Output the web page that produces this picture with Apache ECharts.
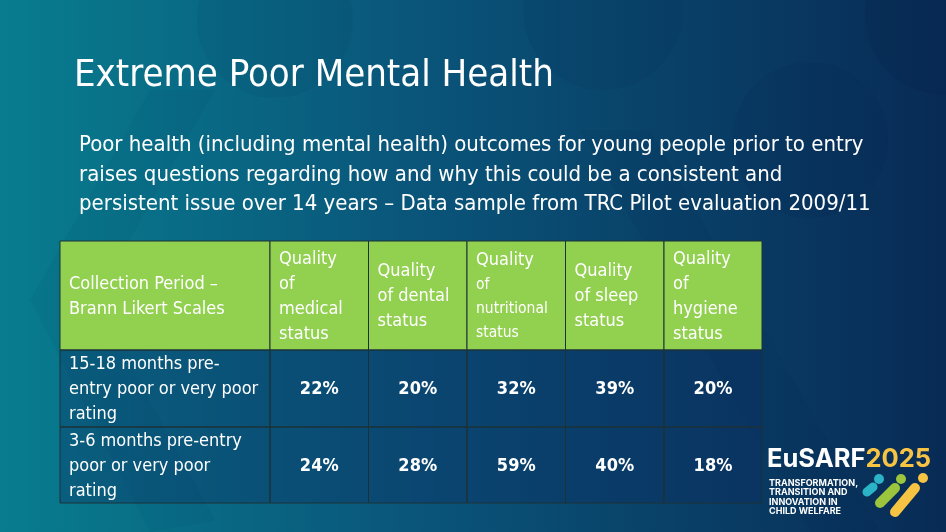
<!DOCTYPE html>
<html>
<head>
<meta charset="utf-8">
<script src="https://cdn.jsdelivr.net/npm/echarts@6/dist/echarts.min.js"></script>
<style>
  html, body { margin: 0; padding: 0; background: #0b5a78; }
  #main { width: 946px; height: 532px; }
</style>
</head>
<body>
<div id="main"></div>
<script>
// table content
const headers = [
    'Collection Period –\nBrann Likert Scales',
    'Quality\nof\nmedical\nstatus',
    'Quality\nof dental\nstatus',
    'Quality\nof\nnutritional\nstatus',
    'Quality\nof sleep\nstatus',
    'Quality\nof\nhygiene\nstatus'
];
const periods = [
    '15-18 months pre-\nentry poor or very poor\nrating',
    '3-6 months pre-entry\npoor or very poor\nrating'
];
const medical = [22, 24];
const dental = [20, 28];
const nutritional = [32, 59];
const sleep = [39, 40];
const hygiene = [20, 18];

const titleText = 'Extreme Poor Mental Health';
const subtitleText = 'Poor health (including mental health) outcomes for young people prior to entry\nraises questions regarding how and why this could be a consistent and\npersistent issue over 14 years – Data sample from TRC Pilot evaluation 2009/11';

// layout of the table (in px units of the grid)
const colEdges = [0, 210, 308.5, 407, 505.5, 604, 702];
const rowEdges = [0, 109, 186, 262];
const FONT = '"DejaVu Sans Condensed", "Liberation Sans Narrow", Arial, sans-serif';
const LOGO_FONT = 'Inter, "DejaVu Sans", sans-serif';

// build the cells from the arrays
const columns = [medical, dental, nutritional, sleep, hygiene];
const cells = [];
headers.forEach((h, c) => cells.push({ value: [c, 0], text: h }));
periods.forEach((p, r) => {
    cells.push({ value: [0, r + 1], text: p });
    columns.forEach((col, c) => cells.push({ value: [c + 1, r + 1], text: col[r] + '%' }));
});

const renderCell = (params, api) => {
    const col = api.value(0);
    const row = api.value(1);
    const p0 = api.coord([colEdges[col], rowEdges[row]]);
    const p1 = api.coord([colEdges[col + 1], rowEdges[row + 1]]);
    const w = p1[0] - p0[0];
    const h = p1[1] - p0[1];
    let text = cells[params.dataIndex].text;
    const isValue = row > 0 && col > 0;
    if (col === 3 && row === 0) {
        // smaller lines under "Quality" in the nutritional header
        const lines = text.split('\n');
        text = '{n|' + lines[0] + '}\n' + lines.slice(1).map(l => '{s|' + l + '}').join('\n');
    }
    return {
        type: 'group',
        children: [
            {
                type: 'rect',
                shape: { x: p0[0], y: p0[1], width: w, height: h },
                style: {
                    fill: row === 0 ? '#92d050' : 'rgba(12, 40, 95, 0.32)',
                    stroke: '#1d3236',
                    lineWidth: 1
                }
            },
            {
                type: 'text',
                style: {
                    text: text,
                    x: isValue ? p0[0] + w / 2 : p0[0] + 9,
                    y: p0[1] + h / 2 + 1,
                    align: isValue ? 'center' : 'left',
                    verticalAlign: 'middle',
                    fill: '#ffffff',
                    fontFamily: FONT,
                    fontSize: 18,
                    fontWeight: isValue ? 'bold' : 'normal',
                    lineHeight: 25,
                    rich: {
                        n: { fontFamily: FONT, fontSize: 18, lineHeight: 25, fill: '#fff' },
                        s: { fontFamily: FONT, fontSize: 15.5, lineHeight: 24, fill: '#fff' }
                    }
                }
            }
        ]
    };
};

const chart = echarts.init(document.getElementById('main'));

const options = {
    animation: false,
    grid: { left: 60, top: 241, width: 702, height: 262 },
    xAxis: { type: 'value', min: 0, max: 702, show: false },
    yAxis: { type: 'value', min: 0, max: 262, inverse: true, show: false },
    graphic: [
        // slide background
        {
            type: 'rect', z: -10, silent: true,
            shape: { x: 0, y: 0, width: 946, height: 532 },
            style: {
                fill: new echarts.graphic.LinearGradient(0, 0, 1, 0, [
                    { offset: 0, color: '#087d8f' },
                    { offset: 0.45, color: '#0a5479' },
                    { offset: 1, color: '#082b55' }
                ])
            }
        },
        { type: 'circle', z: -9, silent: true, shape: { cx: 275, cy: 20, r: 78 }, style: { fill: 'rgba(5,30,70,0.06)' } },
        { type: 'circle', z: -9, silent: true, shape: { cx: 603, cy: 10, r: 80 }, style: { fill: 'rgba(5,30,70,0.07)' } },
        { type: 'circle', z: -9, silent: true, shape: { cx: 945, cy: 15, r: 80 }, style: { fill: 'rgba(3,20,55,0.10)' } },
        { type: 'circle', z: -9, silent: true, shape: { cx: 810, cy: 140, r: 78 }, style: { fill: 'rgba(3,25,60,0.06)' } },
        {
            type: 'polygon', z: -9, silent: true,
            shape: { points: [[150, 90], [215, 90], [95, 300], [215, 520], [150, 532], [30, 300]] },
            style: { fill: 'rgba(5,40,80,0.05)' }
        },
        {
            type: 'polygon', z: -9, silent: true,
            shape: { points: [[580, 130], [650, 130], [880, 532], [810, 532]] },
            style: { fill: 'rgba(3,25,60,0.05)' }
        },
        // title and subtitle
        {
            type: 'text', left: 74, top: 57,
            style: { text: titleText, fill: '#ffffff', font: '38px ' + FONT }
        },
        {
            type: 'text', left: 79, top: 131,
            style: { text: subtitleText, fill: '#ffffff', fontFamily: FONT, fontSize: 22, lineHeight: 29.5 }
        },
        // EuSARF logo
        {
            type: 'text', left: 767, top: 446,
            style: {
                text: '{a|EuSARF}{b|2025}',
                rich: {
                    a: { fontFamily: LOGO_FONT, fontWeight: 'bold', fontSize: 25.5, fill: '#ffffff' },
                    b: { fontFamily: LOGO_FONT, fontWeight: 'bold', fontSize: 25.5, fill: '#f6c343' }
                }
            }
        },
        {
            type: 'text', left: 769, top: 478,
            style: {
                text: 'TRANSFORMATION,\nTRANSITION AND\nINNOVATION IN\nCHILD WELFARE',
                fill: '#ffffff', fontFamily: LOGO_FONT,
                fontWeight: 'bold', fontSize: 9, lineHeight: 9.6
            }
        },
        { type: 'circle', shape: { cx: 879, cy: 479, r: 5 }, style: { fill: '#2bb3c8' } },
        { type: 'line', shape: { x1: 873, y1: 487, x2: 867, y2: 492 }, style: { stroke: '#2bb3c8', lineWidth: 9, lineCap: 'round' } },
        { type: 'circle', shape: { cx: 901, cy: 479, r: 5 }, style: { fill: '#9bc53d' } },
        { type: 'line', shape: { x1: 895, y1: 488, x2: 880, y2: 503 }, style: { stroke: '#9bc53d', lineWidth: 10, lineCap: 'round' } },
        { type: 'circle', shape: { cx: 923, cy: 478, r: 5 }, style: { fill: '#f6c343' } },
        { type: 'line', shape: { x1: 915, y1: 488, x2: 895, y2: 512 }, style: { stroke: '#f6c343', lineWidth: 10, lineCap: 'round' } }
    ],
    series: [{
        type: 'custom',
        renderItem: renderCell,
        data: cells,
        encode: { x: 0, y: 1 },
        clip: false
    }]
};

chart.setOption(options);
</script>
</body>
</html>
